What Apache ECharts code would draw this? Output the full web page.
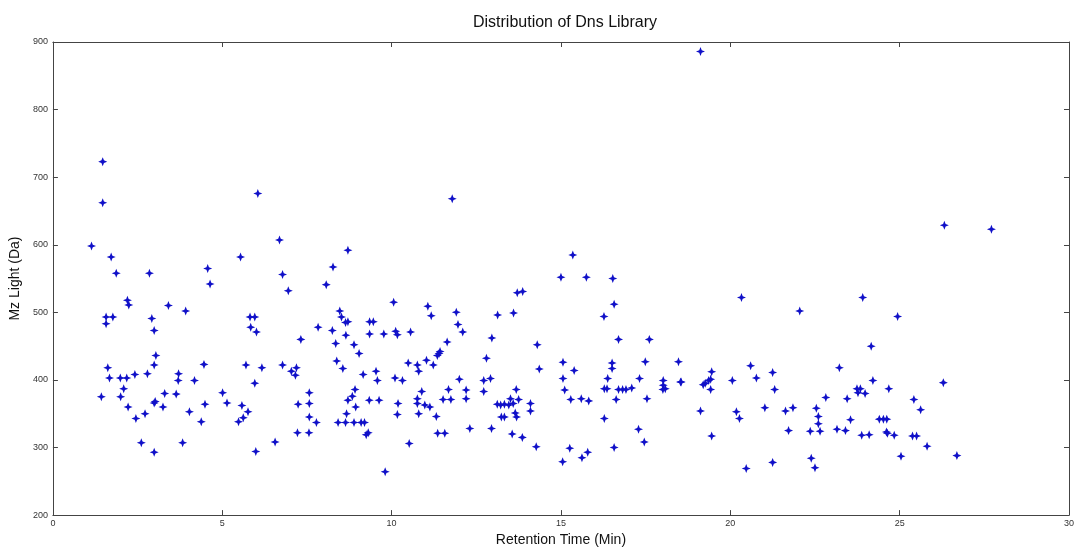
<!DOCTYPE html>
<html>
<head>
<meta charset="utf-8">
<title>Distribution of Dns Library</title>
<script src="https://cdn.jsdelivr.net/npm/echarts@6/dist/echarts.min.js"></script>
<style>
  html, body { margin: 0; padding: 0; background: #fff; }
  #chart { width: 1077px; height: 552px; }
</style>
</head>
<body>
<div id="chart"></div>
<script>
// Retention time (min) and m/z (Da) of each library entry
const retentionTime = [
  1.47, 1.47, 1.14, 1.72, 1.87, 2.85, 4.57, 5.54, 6.05, 6.69,
  6.78, 4.64, 6.95, 2.20, 2.24, 3.41, 3.92, 1.57, 1.77, 1.57,
  2.92, 2.99, 5.82, 5.96, 5.84, 6.01, 7.32, 3.04, 2.99, 1.62,
  1.67, 1.99, 2.18, 2.42, 2.79, 2.09, 1.43, 2.00, 2.22, 2.45,
  2.72, 2.99, 3.30, 3.25, 3.64, 3.71, 3.70, 4.18, 4.46, 4.03,
  4.49, 4.38, 2.61, 2.99, 3.83, 5.01, 5.14, 5.58, 5.76, 5.62,
  5.48, 5.70, 6.17, 5.96, 5.99, 6.56, 6.78, 7.04, 7.16, 7.19,
  7.24, 7.22, 3.02, 11.79, 8.71, 8.27, 8.07, 10.06, 8.47, 8.52,
  8.64, 8.71, 9.35, 9.46, 7.83, 8.25, 8.65, 9.35, 9.77, 10.12,
  10.17, 10.56, 11.07, 11.17, 11.91, 11.96, 12.10, 11.64, 11.43, 11.40,
  11.35, 11.03, 11.23, 10.49, 10.76, 10.80, 8.35, 8.89, 9.04, 8.38,
  8.56, 9.16, 9.54, 9.58, 10.10, 10.32, 7.57, 7.57, 7.57, 7.78,
  7.56, 8.92, 8.84, 8.71, 8.94, 8.67, 8.42, 8.64, 8.89, 9.10,
  9.20, 9.34, 9.63, 9.25, 9.31, 10.19, 10.17, 9.81, 10.52, 10.89,
  10.76, 10.76, 10.80, 10.98, 11.13, 11.32, 11.36, 11.57, 11.52, 11.75,
  11.68, 12.00, 12.20, 12.20, 12.31, 12.72, 12.92, 12.72, 12.80, 12.96,
  13.13, 13.60, 13.71, 13.87, 14.30, 14.36, 12.95, 13.12, 13.22, 13.33,
  13.46, 13.59, 13.24, 13.33, 13.51, 13.68, 13.75, 13.65, 13.69, 13.56,
  13.86, 14.10, 14.10, 14.27, 19.12, 15.35, 15.00, 15.75, 16.53, 16.57,
  16.27, 16.70, 17.61, 15.06, 15.39, 15.06, 15.11, 15.29, 15.60, 15.82,
  16.51, 16.51, 16.38, 16.28, 16.36, 16.70, 16.82, 16.92, 17.09, 16.63,
  17.49, 17.32, 17.54, 16.28, 17.29, 17.46, 15.26, 15.05, 15.62, 15.79,
  16.57, 18.02, 18.02, 18.08, 18.01, 18.47, 18.53, 18.55, 19.12, 19.20,
  19.26, 19.36, 19.42, 19.45, 19.42, 19.45, 20.33, 20.06, 20.18, 20.27,
  20.47, 20.60, 20.77, 21.02, 21.25, 21.31, 21.25, 21.63, 21.85, 21.72,
  22.05, 23.91, 24.94, 24.16, 23.22, 24.21, 26.29, 23.74, 23.84, 23.77,
  23.98, 24.68, 22.82, 23.45, 22.54, 22.60, 22.60, 22.36, 22.65, 23.15,
  23.40, 23.55, 24.40, 24.52, 24.62, 23.88, 24.10, 24.61, 24.64, 24.84,
  25.42, 25.62, 25.38, 25.50, 25.81, 25.04, 26.69, 22.39, 22.50, 26.32,
  27.71
];

const mzLight = [
  723, 662, 598, 582, 558, 558, 565, 582, 676, 607,
  556, 542, 532, 518, 511, 510, 502, 493, 493, 483,
  491, 473, 493, 493, 478, 471, 460, 436, 422, 418,
  403, 403, 403, 408, 409, 387, 375, 375, 360, 343,
  350, 366, 380, 360, 379, 409, 399, 399, 423, 353,
  364, 338, 307, 293, 307, 381, 366, 362, 353, 344,
  338, 422, 418, 395, 294, 308, 422, 413, 407, 418,
  364, 322, 368, 668, 592, 567, 541, 515, 502, 493,
  485, 486, 486, 486, 478, 473, 466, 468, 468, 472,
  467, 471, 509, 495, 500, 482, 471, 456, 442, 439,
  436, 429, 422, 425, 422, 413, 454, 452, 439, 428,
  417, 408, 413, 399, 403, 399, 381, 365, 345, 337,
  322, 386, 376, 370, 360, 350, 337, 337, 337, 337,
  337, 370, 370, 319, 322, 365, 349, 264, 306, 383,
  372, 365, 350, 363, 360, 346, 321, 321, 371, 371,
  386, 401, 385, 372, 328, 399, 402, 383, 432, 462,
  496, 499, 529, 531, 452, 416, 328, 364, 363, 364,
  363, 365, 345, 345, 372, 386, 371, 351, 345, 320,
  315, 365, 354, 301, 886, 585, 552, 552, 550, 512,
  494, 460, 460, 426, 414, 402, 385, 371, 372, 369,
  425, 417, 402, 387, 387, 386, 386, 386, 388, 371,
  427, 402, 372, 343, 327, 308, 299, 279, 285, 293,
  300, 399, 392, 387, 386, 427, 397, 397, 354, 393,
  395, 399, 401, 412, 386, 317, 522, 399, 353, 343,
  269, 421, 403, 359, 411, 386, 278, 354, 359, 325,
  502, 522, 494, 450, 418, 399, 396, 387, 387, 381,
  380, 387, 374, 372, 358, 346, 335, 324, 324, 327,
  325, 341, 342, 342, 342, 318, 319, 323, 321, 318,
  371, 356, 317, 317, 302, 287, 288, 284, 270, 629,
  623
];

const xTicks = { min: 0, max: 30, interval: 5 };
const yTicks = { min: 200, max: 900, interval: 100 };

const chart = echarts.init(document.getElementById('chart'));

const fontFamily = '"Liberation Sans", Arial, sans-serif';
const lineColor = '#444';

// MATLAB-style box: ticks inside on all four sides, labels on bottom/left only
function boxAxis(range, position, withLabels, extra) {
  return {
    type: 'value',
    position,
    min: range.min,
    max: range.max,
    interval: range.interval,
    splitLine: { show: false },
    axisLine: { show: true, onZero: false, lineStyle: { color: lineColor, width: 1 } },
    axisTick: { show: true, inside: true, length: 5, lineStyle: { color: lineColor } },
    axisLabel: {
      show: withLabels,
      color: '#333',
      fontSize: 9,
      fontFamily,
    },
    ...extra,
  };
}

const points = retentionTime.map((t, i) => [t, mzLight[i]]);

chart.setOption({
  animation: false,
  backgroundColor: '#fff',
  title: {
    text: 'Distribution of Dns Library',
    left: 560,
    top: 10,
    textAlign: 'center',
    textStyle: { fontSize: 16, fontWeight: 'normal', color: '#111', fontFamily },
  },
  grid: { left: 52, right: 8, top: 42, bottom: 35, containLabel: false },
  xAxis: [
    boxAxis(xTicks, 'bottom', true, {
      name: 'Retention Time (Min)',
      nameLocation: 'middle',
      nameGap: 16,
      nameTextStyle: { fontSize: 14, color: '#111', fontFamily },
      axisLabel: { show: true, color: '#333', fontSize: 9, fontFamily, margin: 4 },
    }),
    boxAxis(xTicks, 'top', false),
  ],
  yAxis: [
    boxAxis(yTicks, 'left', true, {
      name: 'Mz Light (Da)',
      nameLocation: 'middle',
      nameGap: 21,
      nameTextStyle: { fontSize: 14, color: '#111', fontFamily },
      axisLabel: { show: true, color: '#333', fontSize: 9, fontFamily, margin: 5 },
    }),
    boxAxis(yTicks, 'right', false),
  ],
  series: [
    {
      type: 'scatter',
      xAxisIndex: 0,
      yAxisIndex: 0,
      data: points,
      symbol: 'path://M5,0 L6.4,3.6 L10,5 L6.4,6.4 L5,10 L3.6,6.4 L0,5 L3.6,3.6 Z',
      symbolSize: 9,
      itemStyle: { color: '#1010c8', opacity: 1 },
    },
  ],
});
</script>
</body>
</html>
